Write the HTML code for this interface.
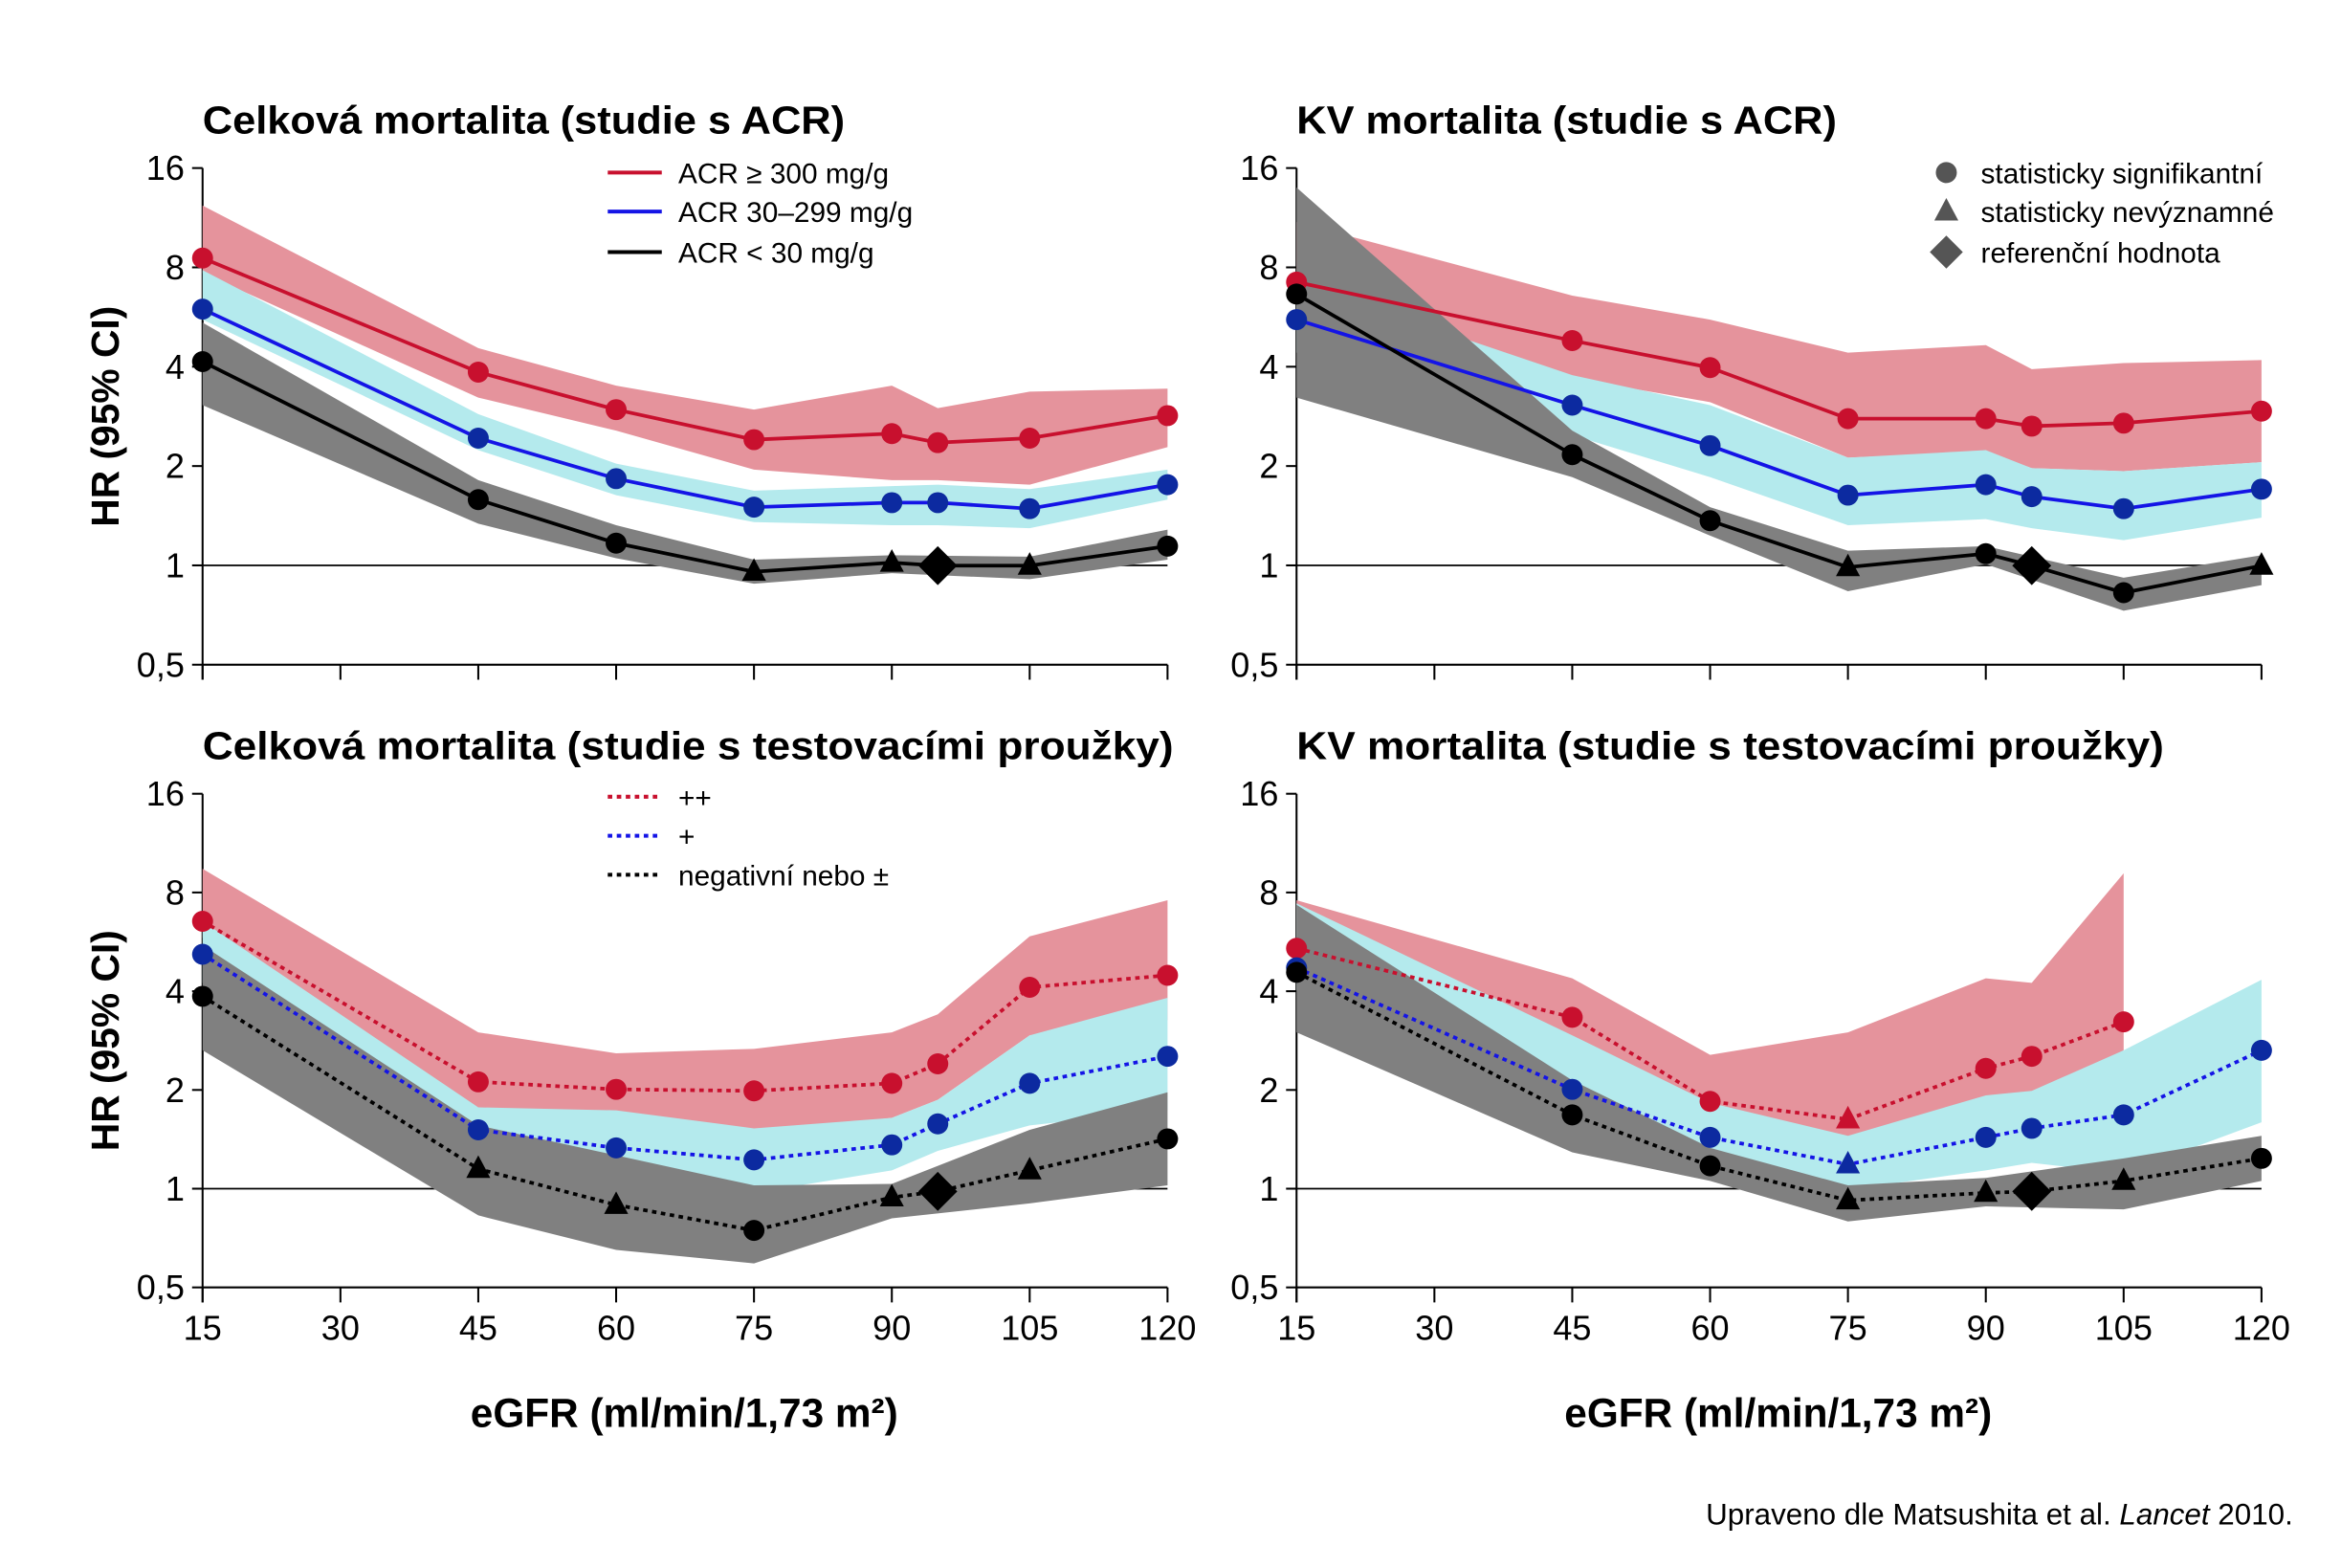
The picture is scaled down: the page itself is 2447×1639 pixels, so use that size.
<!DOCTYPE html>
<html><head><meta charset="utf-8"><style>
html,body{margin:0;padding:0;background:#fff}
svg{display:block}
text{font-family:"Liberation Sans",sans-serif}
</style></head><body>
<svg id="s" width="2447" height="1639" viewBox="0 0 1560 1045" preserveAspectRatio="none" xmlns="http://www.w3.org/2000/svg"></svg>
<script>
const S=document.getElementById('s');let h='';
const E=[15,45,60,75,90,95,105,120];
const RED='#c8102e',RB='#e5939c',CB='#b4eaed',GB='#808080',BL='#1414e6',BM='#0c2aa0';
function X(x0,e){return x0+(e-15)/15*91.86}
function band(x0,es,up,lo,c){let p=es.map((e,i)=>X(x0,e)+','+up[i]);let q=es.map((e,i)=>X(x0,e)+','+lo[i]).reverse();h+=`<polygon points="${p.concat(q).join(' ')}" fill="${c}"/>`}
function line(x0,es,ys,c,dash){h+=`<polyline points="${es.map((e,i)=>X(x0,e)+','+ys[i]).join(' ')}" fill="none" stroke="${c}" stroke-width="2.4" ${dash?'stroke-dasharray="3,3"':''}/>`}
function mk(x,y,t,c){if(t=='c')h+=`<circle cx="${x}" cy="${y}" r="7" fill="${c}"/>`;else if(t=='t')h+=`<polygon points="${x},${y-9} ${x-8},${y+6} ${x+8},${y+6}" fill="${c}"/>`;else h+=`<polygon points="${x},${y-13} ${x+13},${y} ${x},${y+13} ${x-13},${y}" fill="#000"/>`}
function marks(x0,es,ys,ts,c){es.forEach((e,i)=>mk(X(x0,e),ys[i],ts[i],c))}
function axes2(x0,y16,dd,title,tw,ylab){let y05=y16+5*dd;
h+=`<line x1="${x0}" y1="${y16}" x2="${x0}" y2="${y05+10}" stroke="#000" stroke-width="1.3"/>`;
h+=`<line x1="${x0}" y1="${y05}" x2="${x0+643}" y2="${y05}" stroke="#000" stroke-width="1.3"/>`;
h+=`<line x1="${x0}" y1="${y16+4*dd}" x2="${x0+643}" y2="${y16+4*dd}" stroke="#000" stroke-width="1.1"/>`;
['16','8','4','2','1','0,5'].forEach((l,k)=>{let yy=y16+k*dd;h+=`<line x1="${x0-7}" y1="${yy}" x2="${x0}" y2="${yy}" stroke="#000" stroke-width="1.3"/><text x="${x0-12}" y="${yy+8}" font-size="23" text-anchor="end">${l}</text>`});
[15,30,45,60,75,90,105,120].forEach(e=>{let xx=X(x0,e);h+=`<line x1="${xx}" y1="${y05}" x2="${xx}" y2="${y05+10}" stroke="#000" stroke-width="1.3"/>`});
h+=`<text x="${x0}" y="${y16-23}" font-size="26" font-weight="bold" textLength="${tw}" lengthAdjust="spacingAndGlyphs">${title}</text>`;
if(ylab)h+=`<text transform="translate(${x0-56},${y16+2.5*dd}) rotate(-90)" font-size="26" font-weight="bold" text-anchor="middle">HR (95% CI)</text>`}
// TL
let x=135;
axes2(x,112,66.2,'Celková mortalita (studie s ACR)',428,1);
band(x,[15,45,60,75,90,95,105,120],[137,232,257,273,257,272,261,259],[182,265,287,313,320,320,323,298],RB);
band(x,[15,45,60,75,90,95,105,120],[180,276,309,327,324,323,326,313],[213,300,330,348,350,350,352,333],CB);
band(x,[15,45,60,75,90,105,120],[215,320,350,373,370,371,353],[270,349,372,389,382,386,373],GB);
line(x,E,[172,248,273,293,289,295,292,277],RED);marks(x,E,[172,248,273,293,289,295,292,277],'cccccccc',RED);
line(x,E,[206,292,319,338,335,335,339,323],BL);marks(x,E,[206,292,319,338,335,335,339,323],'cccccccc',BM);
line(x,E,[241,333,362,381,375,377,377,364],'#000');marks(x,E,[241,333,362,381,375,377,377,364],['c','c','c','t','t','d','t','c'],'#000');
[[115,RED,'ACR ≥ 300 mg/g'],[141,BL,'ACR 30–299 mg/g'],[168,'#000','ACR &lt; 30 mg/g']].forEach(([y,c,t])=>{h+=`<line x1="405" y1="${y}" x2="441" y2="${y}" stroke="${c}" stroke-width="2.6"/><text x="452" y="${y+7}" font-size="19">${t}</text>`});
// TR
x=864;
axes2(x,112,66.2,'KV mortalita (studie s ACR)',360,0);
band(x,E,[148,197,213,235,230,246,242,240],[215,252,268,305,301,312,314,308],RB);
band(x,E,[188,250,270,305,300,312,314,308],[235,290,318,350,346,352,360,345],CB);
band(x,[15,45,60,75,90,105,120],[125,287,338,367,364,385,370],[265,318,357,394,376,407,390],GB);
line(x,E,[188,227,245,279,279,284,282,274],RED);marks(x,E,[188,227,245,279,279,284,282,274],'cccccccc',RED);
line(x,E,[213,270,297,330,323,331,339,326],BL);marks(x,E,[213,270,297,330,323,331,339,326],'cccccccc',BM);
line(x,E,[196,303,347,378,369,377,395,377],'#000');marks(x,E,[196,303,347,378,369,377,395,377],['c','c','c','t','c','d','c','t'],'#000');
[[115,'c','statisticky signifikantní'],[141,'t','statisticky nevýznamné'],[168,'d','referenční hodnota']].forEach(([y,t,s])=>{if(t=='c')h+=`<circle cx="1297" cy="${y}" r="7" fill="#555"/>`;else if(t=='t')h+=`<polygon points="1297,${y-9} 1289,${y+6} 1305,${y+6}" fill="#555"/>`;else h+=`<polygon points="1297,${y-11} 1308,${y} 1297,${y+11} 1286,${y}" fill="#555"/>`;h+=`<text x="1320" y="${y+7}" font-size="19">${s}</text>`});
// BL
x=135;
axes2(x,529,65.8,'Celková mortalita (studie s testovacími proužky)',647,1);
band(x,E,[579,688,702,699,688,676,624,600],[625,740,745,755,745,733,690,680],RB);
band(x,E,[614,738,740,752,745,733,690,665],[655,770,785,795,780,767,750,740],CB);
band(x,[15,45,60,75,90,105,120],[630,750,770,790,789,753,728],[700,810,833,842,812,802,790],GB);
line(x,E,[614,721,726,727,722,709,658,650],RED,1);marks(x,E,[614,721,726,727,722,709,658,650],'cccccccc',RED);
line(x,E,[636,753,765,773,763,749,722,704],BL,1);marks(x,E,[636,753,765,773,763,749,722,704],'cccccccc',BM);
line(x,E,[664,779,803,820,798,794,780,759],'#000',1);marks(x,E,[664,779,803,820,798,794,780,759],['c','t','t','c','t','d','t','c'],'#000');
[[531,RED,'++'],[557,BL,'+'],[583,'#000','negativní nebo ±']].forEach(([y,c,t])=>{h+=`<line x1="405" y1="${y}" x2="441" y2="${y}" stroke="${c}" stroke-width="2.6" stroke-dasharray="3,3"/><text x="452" y="${y+7}" font-size="19">${t}</text>`});
// BR
x=864;
axes2(x,529,65.8,'KV mortalita (studie s testovacími proužky)',578,0);
band(x,[15,45,60,75,90,95,105],[600,652,703,688,652,655,582],[640,700,750,760,740,735,700],RB);
band(x,E,[602,690,735,757,730,727,700,653],[660,745,775,793,780,775,782,748],CB);
band(x,[15,45,60,75,90,105,120],[603,720,765,790,785,772,757],[688,768,787,814,804,806,787],GB);
const E7=[15,45,60,75,90,95,105];
line(x,E7,[632,678,734,746,712,704,681],RED,1);marks(x,E7,[632,678,734,746,712,704,681],['c','c','c','t','c','c','c'],RED);
line(x,E,[645,726,758,776,758,752,743,700],BL,1);marks(x,E,[645,726,758,776,758,752,743,700],['c','c','c','t','c','c','c','c'],BM);
line(x,E,[648,743,777,800,795,794,787,772],'#000',1);marks(x,E,[648,743,777,800,795,794,787,772],['c','c','c','t','t','d','t','c'],'#000');
// x labels
[135,864].forEach(x0=>{[15,30,45,60,75,90,105,120].forEach(e=>{h+=`<text x="${X(x0,e)}" y="893" font-size="23" text-anchor="middle">${e}</text>`});
h+=`<text x="${x0+321}" y="951" font-size="27" font-weight="bold" text-anchor="middle">eGFR (ml/min/1,73 m²)</text>`});
h+=`<text x="1528" y="1016" font-size="20" text-anchor="end">Upraveno dle Matsushita et al. <tspan font-style="italic">Lancet</tspan> 2010.</text>`;
S.innerHTML=h;
</script>
</body></html>
